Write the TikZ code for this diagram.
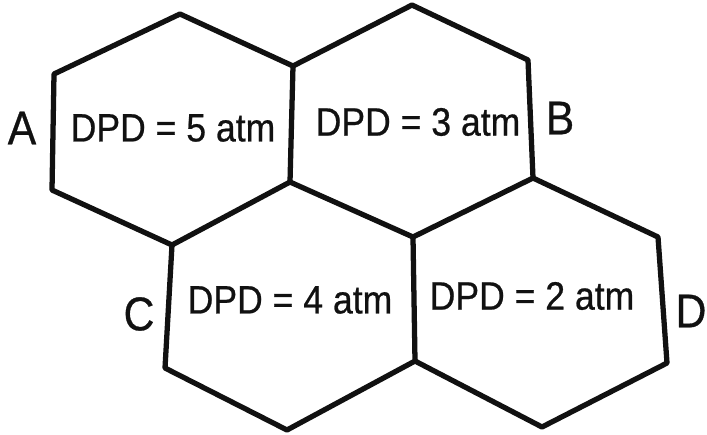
\documentclass[tikz,border=0pt]{standalone}
\usepackage{fontspec}
\setmainfont{Liberation Sans}
\newfontfamily\cellfont[FakeStretch=0.9, FakeBold=0.6]{Liberation Sans}
\usetikzlibrary{calc}
\definecolor{CellInk}{HTML}{111111}
\tikzset{
  every node/.style={text=CellInk},
  wall/.style={draw=CellInk, line width=3pt, line join=round, line cap=round},
  dpd/.style={inner sep=0pt, font=\cellfont\fontsize{22.5}{26}\selectfont},
  tag/.style={inner sep=0pt, font=\cellfont\fontsize{27}{30}\selectfont},
}

\begin{document}
\begin{tikzpicture}[x=0.02cm, y=-0.02cm]
  \useasboundingbox (0,0) rectangle (707,434);
  % Cell corners (shared ones named once)
  \coordinate (aT)  at (180,14);
  \coordinate (aTR) at (293,66);
  \coordinate (aBR) at (290,182);
  \coordinate (aB)  at (172,245);
  \coordinate (aBL) at (52,190);
  \coordinate (aTL) at (54,74);
  \coordinate (bT)  at (412,5);
  \coordinate (bTR) at (528,60);
  \coordinate (bBR) at (533,178);
  \coordinate (bB)  at (413,237);
  \coordinate (cBR) at (415,361);
  \coordinate (cB)  at (287,430);
  \coordinate (cBL) at (165,368);
  \coordinate (dTR) at (658,237);
  \coordinate (dBR) at (667,363);
  \coordinate (dB)  at (542,427);
  % Cell A
  \draw[wall] (aT) -- (aTR) -- (aBR) -- (aB) -- (aBL) -- (aTL) -- cycle;
  % Cell B
  \draw[wall] (aTR) -- (bT) -- (bTR) -- (bBR) -- (bB) -- (aBR);
  % Cell C
  \draw[wall] (bB) -- (cBR) -- (cB) -- (cBL) -- (aB);
  % Cell D
  \draw[wall] (bBR) -- (dTR) -- (dBR) -- (dB) -- (cBR);
  % Pressure labels
  \node[dpd] (dpdA) at (173,128) {DPD = 5 atm};
  \node[dpd] (dpdB) at (418,122) {DPD = 3 atm};
  \node[dpd] (dpdC) at (290,300) {DPD = 4 atm};
  \node[dpd] (dpdD) at (532,296) {DPD = 2 atm};
  % Cell letters
  \node[tag] (tagA) at (22,128) {A};
  \node[tag] (tagB) at (560,118) {B};
  \node[tag] (tagC) at (139,314) {C};
  \node[tag] (tagD) at (691,311) {D};
\end{tikzpicture}
\end{document}
